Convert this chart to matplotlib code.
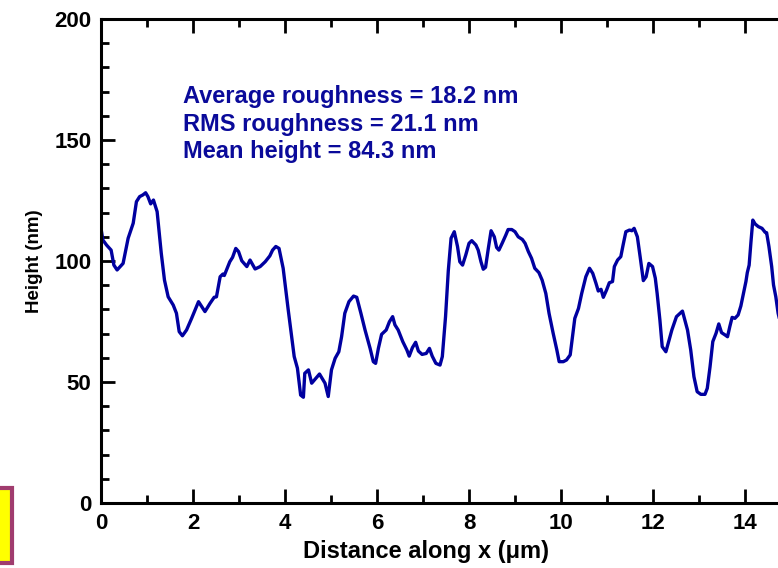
import matplotlib
matplotlib.use("Agg")
import matplotlib.pyplot as plt
from matplotlib.patches import Rectangle
from matplotlib.ticker import MultipleLocator

# Line profile of surface height along x
distance_um = [
    0.00, 0.04, 0.12, 0.22, 0.28, 0.35, 0.48, 0.59, 0.70, 0.77, 0.84, 0.91, 0.97,
    1.02, 1.08, 1.14, 1.22, 1.31, 1.38, 1.46, 1.57, 1.64, 1.70, 1.77, 1.86, 1.97,
    2.12, 2.26, 2.37, 2.46, 2.51, 2.59, 2.65, 2.68, 2.80, 2.86, 2.93, 2.99, 3.06,
    3.17, 3.24, 3.35, 3.46, 3.57, 3.67, 3.73, 3.80, 3.87, 3.96, 4.07, 4.20, 4.27,
    4.34, 4.40, 4.43, 4.51, 4.58, 4.75, 4.87, 4.94, 5.01, 5.09, 5.17, 5.23, 5.30,
    5.39, 5.49, 5.56, 5.65, 5.74, 5.85, 5.92, 5.97, 6.03, 6.10, 6.20, 6.27, 6.34,
    6.39, 6.46, 6.56, 6.65, 6.70, 6.77, 6.84, 6.90, 6.98, 7.07, 7.14, 7.20, 7.28,
    7.37, 7.42, 7.49, 7.55, 7.61, 7.68, 7.75, 7.80, 7.86, 7.93, 8.00, 8.06, 8.15,
    8.20, 8.26, 8.31, 8.36, 8.42, 8.48, 8.55, 8.60, 8.65, 8.72, 8.80, 8.85, 8.93,
    9.00, 9.07, 9.16, 9.22, 9.29, 9.36, 9.43, 9.52, 9.59, 9.67, 9.74, 9.83, 9.91,
    9.96, 10.05, 10.12, 10.20, 10.30, 10.38, 10.45, 10.54, 10.62, 10.69, 10.76,
    10.81, 10.87, 10.92, 10.99, 11.05, 11.12, 11.16, 11.23, 11.30, 11.35, 11.41,
    11.49, 11.54, 11.59, 11.66, 11.72, 11.79, 11.85, 11.91, 11.99, 12.05, 12.09,
    12.15, 12.20, 12.28, 12.33, 12.41, 12.51, 12.64, 12.75, 12.82, 12.89, 12.96,
    13.04, 13.13, 13.18, 13.24, 13.30, 13.37, 13.43, 13.49, 13.57, 13.62, 13.67,
    13.72, 13.78, 13.85, 13.91, 13.96, 14.02, 14.05, 14.09, 14.13, 14.17, 14.22,
    14.29, 14.37, 14.44, 14.47, 14.52, 14.58, 14.62, 14.67, 14.72, 14.80,
]
height_nm = [
    113.5, 108.7, 106.6, 104.5, 98.3, 96.3, 99.0, 109.4, 115.6, 124.5, 126.6, 127.3, 128.2,
    126.6, 123.6, 125.2, 120.4, 103.2, 92.1, 85.2, 81.8, 78.4, 70.8, 69.1, 71.5, 76.3,
    83.2, 79.1, 82.5, 85.0, 85.2, 93.5, 94.6, 94.0, 99.7, 101.5, 105.2, 103.9, 100.1,
    97.7, 100.4, 96.7, 97.7, 99.7, 102.1, 104.5, 106.0, 105.2, 97.0, 79.8, 60.5, 55.7,
    44.6, 43.7, 53.6, 55.0, 49.5, 53.3, 49.5, 44.0, 55.0, 59.8, 62.5, 68.7, 78.4,
    83.2, 85.5, 85.0, 78.4, 71.5, 63.9, 58.4, 57.7, 63.9, 69.7, 71.5, 74.9, 77.0,
    73.6, 71.5, 66.7, 63.2, 60.7, 64.2, 66.4, 62.8, 61.4, 61.8, 63.9, 60.7, 57.7,
    57.0, 60.5, 77.0, 96.0, 109.4, 112.1, 106.0, 99.7, 98.3, 102.5, 107.3, 108.4, 106.6,
    104.5, 99.7, 96.6, 97.4, 105.2, 112.5, 110.0, 105.6, 104.5, 107.3, 110.7, 113.0, 113.0,
    112.1, 110.0, 108.9, 107.3, 103.9, 101.1, 97.0, 95.2, 92.1, 86.6, 78.4, 70.1, 63.2,
    58.4, 58.4, 59.1, 61.2, 76.3, 80.4, 86.6, 93.5, 97.0, 94.9, 90.8,
    87.6, 88.3, 85.0, 88.0, 91.0, 91.5, 97.7, 100.4, 101.8, 106.6, 112.1,
    112.8, 112.5, 113.5, 110.0, 101.8, 91.9, 93.5, 99.0, 97.7, 92.9, 86.6,
    75.6, 64.6, 62.5, 66.0, 71.5, 77.0, 79.3, 71.5, 63.2, 52.2, 46.0,
    44.9, 44.9, 47.4, 56.3, 66.7, 70.1, 74.0, 70.4, 69.4, 68.7, 72.9,
    76.7, 76.3, 77.7, 81.4, 86.0, 91.5, 95.2, 98.3, 108.0, 116.9, 115.3,
    114.2, 113.5, 111.8, 111.7, 106.0, 97.7, 90.1, 85.2, 78.4, 72.0,
]

stats_lines = [
    "Average roughness = 18.2 nm",
    "RMS roughness = 21.1 nm",
    "Mean height = 84.3 nm",
]

line_color = "#0000A0"
text_color = "#0A0A9A"

plt.rcParams["font.family"] = ["Liberation Sans", "DejaVu Sans"]
plt.rcParams["font.weight"] = "bold"

fig = plt.figure(figsize=(7.78, 5.68), dpi=100)
ax = fig.add_axes([101 / 778, 65 / 568, 690 / 778, 484 / 568])

ax.plot(distance_um, height_nm, color=line_color, lw=2.4, solid_joinstyle="round")

ax.set_xlim(0, 15)
ax.set_ylim(0, 200)
ax.xaxis.set_major_locator(MultipleLocator(2))
ax.xaxis.set_minor_locator(MultipleLocator(1))
ax.yaxis.set_major_locator(MultipleLocator(50))
ax.yaxis.set_minor_locator(MultipleLocator(10))

ax.tick_params(which="both", direction="in", top=True, right=False,
               width=2.0, labelsize=16, pad=7)
ax.tick_params(which="major", length=10)
ax.tick_params(which="minor", length=5.5)
for lab in ax.get_xticklabels() + ax.get_yticklabels():
    lab.set_fontweight("bold")

for side in ("left", "bottom", "top", "right"):
    ax.spines[side].set_linewidth(2.2)

ax.set_xlabel("Distance along x (\u03bcm)", fontsize=17, fontweight="bold", labelpad=4)
ax.xaxis.set_label_coords(0.471, -0.077)
ax.set_ylabel("Height (nm)", fontsize=13.5, fontweight="bold", labelpad=8)

for i, s in enumerate(stats_lines):
    ax.text(0.119, 0.839 - i * 0.056, s, transform=ax.transAxes,
            fontsize=17, fontweight="bold", color=text_color, va="center")

# Edge of the neighbouring panel's legend box
fig.patches.append(Rectangle((-30 / 778, 5 / 568), 42 / 778, 75 / 568,
                             transform=fig.transFigure, facecolor="#FFFF00",
                             edgecolor="#A03C6E", linewidth=3))

fig.savefig("out.png", dpi=100)
